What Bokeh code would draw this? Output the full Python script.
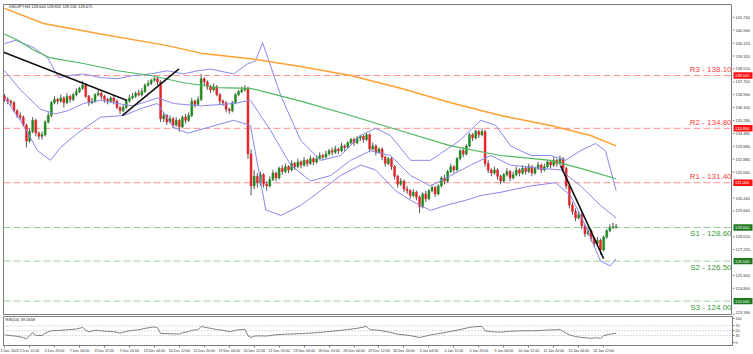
from bokeh.plotting import figure
from bokeh.layouts import column, row
from bokeh.models import Range1d, FixedTicker, Span, ColumnDataSource
from bokeh.embed import file_html
from bokeh.resources import INLINE
from bokeh.core.properties import value

# ---------------- data ----------------
first_open = 136.8
closes = [136.6, 136.5, 136.4, 135.9, 135.6, 135.5, 135.0, 134.0, 134.6, 135.3,
          134.5, 134.3, 134.4, 135.2, 135.6, 136.4, 136.6, 136.5, 136.7, 136.4,
          136.8, 136.6, 136.9, 137.1, 137.3, 137.5, 136.8, 136.4, 136.5, 136.9,
          137.0, 136.8, 136.6, 136.5, 136.7, 136.5, 136.1, 135.9, 136.1, 136.5,
          136.7, 136.8, 137.0, 136.9, 137.1, 137.5, 137.6, 137.8, 137.9, 137.7,
          135.4, 135.6, 135.2, 135.4, 135.0, 135.3, 134.9, 135.5, 135.3, 135.6,
          136.5, 136.3, 136.6, 137.9, 137.7, 137.4, 137.2, 137.4, 136.9, 136.5,
          136.4, 136.0, 135.9, 136.4, 136.9, 137.1, 137.2, 137.3, 133.2, 131.2,
          131.8, 131.4, 131.9, 131.3, 131.2, 131.6, 132.0, 131.7, 132.3, 132.1,
          132.4, 132.2, 132.6, 132.4, 132.7, 132.5, 132.8, 132.6, 132.9, 132.7,
          132.9, 133.1, 133.0, 133.2, 133.4, 133.3, 133.5, 133.4, 133.7, 133.6,
          133.9, 134.1, 133.9, 134.2, 134.3, 134.1, 134.4, 133.5, 133.7, 133.3,
          133.5, 133.0, 132.6, 132.9, 132.4, 131.8, 131.3, 131.5, 131.0, 130.9,
          130.6, 130.8, 130.5, 129.9, 130.7, 130.4, 130.9, 131.1, 130.7, 131.2,
          131.7, 131.5, 132.1, 132.4, 132.2, 132.9, 133.4, 133.2, 133.7, 134.4,
          134.2, 134.6, 134.4, 134.6, 132.6, 132.2, 132.0, 132.2, 131.8, 131.5,
          131.9, 132.1, 131.7, 131.9, 132.2, 132.0, 132.3, 132.1, 132.4, 132.0,
          132.3, 132.5, 132.2, 132.4, 132.7, 132.5, 132.8, 132.6, 132.9, 132.3,
          131.2, 130.0, 129.6, 129.2, 129.4, 128.7, 128.2, 128.4, 127.9, 127.6,
          127.8, 127.2, 128.0, 128.4, 128.6, 128.644, 128.675]
highs = [136.95, 136.75, 136.6, 136.5, 136.0, 135.8, 135.6, 135.1, 134.8, 135.5,
         135.4, 134.6, 134.6, 135.3, 135.8, 136.5, 136.8, 136.7, 136.9, 136.8,
         137.0, 136.9, 137.0, 137.3, 137.4, 137.75, 137.6, 136.9, 136.7, 137.0,
         137.2, 137.1, 136.9, 136.7, 136.8, 136.8, 136.6, 136.2, 136.3, 136.6,
         136.9, 137.0, 137.1, 137.2, 137.3, 137.6, 137.8, 137.9, 138.0, 138.0,
         137.8, 135.8, 135.7, 135.6, 135.5, 135.5, 135.4, 135.6, 135.7, 135.8,
         136.7, 136.6, 136.8, 138.2, 138.0, 137.8, 137.5, 137.6, 137.5, 137.0,
         136.6, 136.5, 136.1, 136.5, 137.0, 137.2, 137.4, 137.5, 137.4, 133.5,
         132.2, 132.0, 132.1, 132.0, 131.5, 131.8, 132.2, 132.1, 132.4, 132.5,
         132.6, 132.5, 132.8, 132.7, 132.9, 132.8, 133.0, 132.9, 133.1, 133.0,
         133.1, 133.3, 133.2, 133.4, 133.5, 133.6, 133.7, 133.6, 133.9, 133.8,
         134.0, 134.2, 134.2, 134.3, 134.4, 134.4, 134.5, 134.5, 133.9, 133.8,
         133.6, 133.6, 133.1, 133.0, 133.0, 132.5, 131.9, 131.7, 131.6, 131.2,
         131.0, 131.0, 130.9, 130.6, 130.8, 130.9, 131.0, 131.3, 131.2, 131.3,
         131.8, 131.9, 132.2, 132.6, 132.5, 133.0, 133.5, 133.6, 133.8, 134.5,
         134.5, 134.7, 134.7, 134.8, 134.7, 132.8, 132.3, 132.4, 132.3, 131.9,
         132.0, 132.3, 132.2, 132.1, 132.4, 132.3, 132.5, 132.4, 132.6, 132.5,
         132.4, 132.7, 132.6, 132.6, 132.8, 132.8, 133.0, 132.9, 133.1, 133.0,
         132.4, 131.3, 130.2, 129.8, 129.6, 129.5, 128.8, 128.6, 128.5, 128.0,
         128.0, 127.9, 128.1, 128.5, 128.8, 128.9, 128.832]
lows = [136.45, 136.3, 136.2, 135.8, 135.45, 135.3, 134.9, 133.6, 133.9, 134.5,
        134.3, 134.1, 134.1, 134.3, 135.1, 135.5, 136.3, 136.3, 136.4, 136.1,
        136.3, 136.4, 136.5, 136.8, 137.0, 137.2, 136.7, 136.2, 136.3, 136.4,
        136.8, 136.6, 136.4, 136.3, 136.4, 136.3, 136.0, 135.7, 135.8, 136.0,
        136.4, 136.6, 136.7, 136.8, 136.8, 137.0, 137.4, 137.5, 137.7, 137.5,
        135.2, 135.2, 135.0, 135.1, 134.8, 134.9, 134.6, 134.8, 135.1, 135.2,
        135.5, 136.1, 136.2, 136.5, 137.5, 137.2, 137.0, 137.1, 136.8, 136.3,
        136.2, 135.8, 135.7, 135.8, 136.3, 136.8, 137.0, 137.1, 132.9, 130.6,
        131.0, 131.1, 131.2, 131.1, 130.9, 131.1, 131.5, 131.5, 131.6, 131.9,
        132.0, 132.0, 132.1, 132.2, 132.3, 132.3, 132.4, 132.4, 132.5, 132.5,
        132.6, 132.8, 132.8, 132.9, 133.1, 133.1, 133.2, 133.2, 133.3, 133.4,
        133.5, 133.8, 133.7, 133.8, 134.0, 133.9, 134.0, 133.3, 133.4, 133.1,
        133.2, 132.8, 132.4, 132.5, 132.2, 131.6, 131.1, 131.2, 130.8, 130.7,
        130.4, 130.5, 130.3, 129.5, 129.8, 130.2, 130.3, 130.8, 130.5, 130.6,
        131.1, 131.3, 131.4, 132.0, 132.0, 132.1, 132.8, 133.0, 133.1, 133.6,
        134.0, 134.1, 134.2, 134.3, 132.4, 132.0, 131.8, 131.9, 131.6, 131.3,
        131.4, 131.8, 131.5, 131.6, 131.8, 131.8, 131.9, 131.9, 132.0, 131.8,
        131.9, 132.2, 132.0, 132.1, 132.3, 132.3, 132.4, 132.4, 132.5, 132.1,
        131.0, 129.8, 129.4, 129.0, 129.1, 128.5, 128.0, 128.1, 127.7, 127.4,
        127.5, 126.9, 127.1, 127.9, 128.3, 128.5, 128.531]

# Bollinger bands (bar index, price)
bb_up_bars = [0, 3.5, 9.3, 13.8, 17.3, 21, 25.3, 30.8, 36.2, 41.3, 46.8, 52.2, 57.4, 61.9, 66,
              73.4, 78, 80.4, 82.7, 88.5, 94.9, 101.3, 107.7, 114, 118.9, 123.7, 130.1, 136.5,
              146, 152.6, 157.4, 162.2, 168.6, 175, 179.8, 184.6, 189.4, 192.6, 196]
bb_up_vals = [140.1, 140.3, 139.85, 139.2, 137.97, 138.1, 138.2, 137.97, 137.9, 138.1, 138.2,
              138.4, 138.2, 138.4, 138.5, 138.2, 138.85, 139.0, 140.15, 136.85, 134.05, 132.8,
              133.1, 134.35, 134.8, 134.35, 132.8, 132.8, 134.05, 135.3, 134.98, 133.7, 133.1,
              133.1, 132.8, 133.4, 133.85, 133.4, 130.9]
bb_mid_bars = [0, 5.1, 11.5, 16.3, 20.2, 25.3, 30.8, 36.2, 41.3, 49, 54.2, 62.8, 73.4, 78.8,
               85.3, 91.7, 98.1, 104.5, 110.9, 117.3, 123.7, 130.1, 136.5, 143, 149.4, 155.8,
               162.2, 171.8, 178.2, 184.6, 191, 196]
bb_mid_vals = [138.4, 137.2, 136.0, 135.7, 135.9, 136.35, 136.55, 136.35, 136.2, 136.7, 136.35,
               136.2, 136.35, 136.55, 134.65, 132.5, 131.5, 131.85, 132.8, 133.4, 133.1, 131.85,
               131.2, 131.85, 132.5, 133.1, 132.5, 132.3, 132.2, 131.2, 129.98, 129.2]
bb_lo_bars = [0, 5.1, 10.6, 14.7, 17.9, 23.4, 30.8, 38.1, 44.6, 49, 54.2, 58.7, 65.1, 73.4,
              78.8, 81.4, 83.7, 88.5, 94.9, 101.3, 107.7, 114.1, 118.9, 125.3, 130.1, 136.5,
              141.3, 147.8, 152.6, 159, 168.6, 176.6, 181.4, 186.2, 191, 194.2, 196]
bb_lo_vals = [136.7, 135.3, 133.4, 132.8, 133.6, 134.5, 135.5, 135.6, 136.1, 136.35, 134.85,
              134.5, 134.85, 135.3, 134.98, 132.2, 129.7, 129.35, 129.98, 130.9, 131.85, 132.5,
              132.2, 130.9, 130.3, 129.66, 129.98, 130.3, 130.6, 130.8, 131.2, 131.4, 130.6,
              128.7, 126.5, 126.2, 126.65]
# moving averages
ma_green_bars = [0, 4.2, 9.3, 14.7, 25.3, 36.2, 46.8, 57.4, 68.3, 78.8, 94.9, 110.9, 126.9,
                 143, 159, 175, 184.6, 196]
ma_green_vals = [140.7, 140.3, 139.7, 139.2, 138.85, 138.4, 138.1, 137.65, 137.35, 137.3, 136.5,
                 135.6, 134.65, 133.7, 133.1, 132.8, 132.3, 131.65]
ma_orange_bars = [0, 12.5, 30.8, 52.2, 62.8, 78.8, 94.9, 110.9, 126.9, 143, 159, 175, 187.8, 196]
ma_orange_vals = [142.3, 141.35, 140.7, 139.97, 139.5, 139.15, 138.66, 138.1, 137.3, 136.4,
                  135.6, 134.98, 134.35, 133.7]
# RSI(14)
rsi_bars = [0, 2, 4, 6, 7, 8, 9, 10, 12, 13, 15, 17, 20, 23, 25, 26, 27, 29, 31, 33, 35, 37,
            39, 41, 43, 45, 47, 48, 49, 50, 52, 54, 56, 57, 59, 60, 62, 63, 64, 66, 68, 70, 72,
            74, 76, 77, 78, 79, 80, 82, 84, 86, 90, 95, 100, 105, 110, 113, 116, 117, 120, 123,
            126, 130, 133, 135, 137, 140, 143, 146, 149, 151, 153, 154, 156, 159, 162, 166, 170,
            174, 177, 178, 179, 181, 183, 185, 188, 190, 191, 192, 194, 196]
rsi_vals = [33, 30, 27, 22, 16, 30, 42, 31, 30, 40, 50, 51, 54, 57, 64, 52, 46, 52, 50, 47, 46,
            40, 47, 52, 54, 60, 64, 66, 62, 39, 38, 37, 36, 42, 46, 52, 54, 68, 65, 60, 55, 52,
            46, 52, 55, 56, 30, 22, 28, 29, 28, 32, 36, 38, 42, 48, 55, 60, 68, 55, 52, 45, 36,
            30, 22, 28, 34, 40, 47, 55, 64, 67, 68, 50, 46, 44, 48, 50, 50, 53, 54, 56, 47, 33,
            26, 22, 19, 21, 18, 30, 36, 39.57]
# drawn trend lines (bar, price)
trend1_bars = [-0.3, 39.3]
trend1_vals = [139.56, 136.54]
trend2_bars = [37.7, 55.9]
trend2_vals = [135.6, 138.52]
trend3_bars = [178.2, 192]
trend3_vals = [132.47, 126.66]
# support / resistance
res_levels = [138.10, 134.80, 131.40]
res_names = ["R3 - 138.10", "R2 - 134.80", "R1 - 131.40"]
sup_levels = [128.60, 126.50, 124.00]
sup_names = ["S1 - 128.60", "S2 - 126.50", "S3 - 124.00"]
# axis labels
price_ticks = [141.74, 140.94, 140.12, 139.32, 138.52, 137.70, 136.90, 136.10, 135.28, 134.48,
               133.68, 132.88, 132.06, 131.26, 130.44, 129.64, 128.02, 127.22, 125.60, 124.80,
               123.18]
x_labels = ["1 Dec 2022", "2 Dec 12:00", "5 Dec 20:00", "7 Dec 04:00", "8 Dec 12:00",
            "9 Dec 20:00", "13 Dec 04:00", "14 Dec 12:00", "15 Dec 20:00", "19 Dec 04:00",
            "20 Dec 12:00", "21 Dec 20:00", "23 Dec 04:00", "26 Dec 20:00", "28 Dec 04:00",
            "29 Dec 12:00", "30 Dec 20:00", "3 Jan 04:00", "4 Jan 12:00", "5 Jan 20:00",
            "9 Jan 04:00", "10 Jan 12:00", "11 Jan 20:00", "13 Jan 04:00", "16 Jan 12:00"]
title_text = "USDJPY,H4  128.644 128.832 128.531 128.675"
rsi_text = "RSI(14) 39.5658"

# ---------------- styles ----------------
FONT = "Liberation Sans"
UP, DOWN = "#1f8a1f", "#e3242b"
GRAY = "#7a7a7a"
TICKFS = "4px"
Y0, Y1 = 123.1, 142.54

opens = [first_open] + closes[:-1]
xs = list(range(len(closes)))
src = ColumnDataSource(dict(
    x=xs, open=opens, close=closes, high=highs, low=lows,
    top=[max(o, c) for o, c in zip(opens, closes)],
    bottom=[min(o, c) for o, c in zip(opens, closes)],
    color=[UP if c >= o else DOWN for o, c in zip(opens, closes)],
))

xr = Range1d(-0.35, 233.3)
yr = Range1d(Y0, Y1)
p = figure(frame_width=729, frame_height=311, x_range=xr, y_range=yr,
           output_backend="svg", toolbar_location=None, x_axis_location=None,
           y_axis_location=None, min_border_left=3, min_border_right=0,
           min_border_top=4, min_border_bottom=0)
p.outline_line_color = GRAY
p.grid.visible = False

for lv in res_levels:
    p.add_layout(Span(location=lv, dimension="width", line_color="#ff9090",
                      line_dash="7 3", line_width=1, level="underlay"))
for lv in sup_levels:
    p.add_layout(Span(location=lv, dimension="width", line_color="#93d093",
                      line_dash="7 3", line_width=1, level="underlay"))

p.segment(x0="x", y0="low", x1="x", y1="high", source=src, line_color="#555555", line_width=1)
p.vbar(x="x", width=0.62, top="top", bottom="bottom", source=src,
       fill_color="color", line_color="color", line_width=0.5)

BB = "#8888ee"
p.line(bb_up_bars, bb_up_vals, line_color=BB, line_width=1)
p.line(bb_mid_bars, bb_mid_vals, line_color=BB, line_width=1)
p.line(bb_lo_bars, bb_lo_vals, line_color=BB, line_width=1)
p.line(ma_green_bars, ma_green_vals, line_color="#4cb860", line_width=1.2)
p.line(ma_orange_bars, ma_orange_vals, line_color="#ffa030", line_width=1.5)
for bx, by in [(trend1_bars, trend1_vals), (trend2_bars, trend2_vals), (trend3_bars, trend3_vals)]:
    p.line(bx, by, line_color="#111111", line_width=1.6)

p.text(x=[233.0] * 3, y=[v + 0.1 for v in res_levels], text=res_names,
       text_font=value(FONT), text_font_size="8px", text_color="#ff4040",
       text_align="right", text_baseline="bottom")
p.text(x=[233.0] * 3, y=[v - 0.12 for v in sup_levels], text=sup_names,
       text_font=value(FONT), text_font_size="8px", text_color="#3c9c3c",
       text_align="right", text_baseline="top")
p.text(x=[1.3], y=[142.42], text=[title_text], text_font=value(FONT),
       text_font_size=TICKFS, text_color="#222222", text_baseline="middle")

# ---------------- price scale strip (right of the chart) ----------------
s = figure(frame_width=21, frame_height=311, x_range=Range1d(0, 21), y_range=yr,
           output_backend="svg", toolbar_location=None, x_axis_location=None,
           y_axis_location=None, min_border_left=0, min_border_right=0,
           min_border_top=4, min_border_bottom=0)
s.outline_line_color = None
s.grid.visible = False
n = len(price_ticks)
s.segment(x0=[0] * n, y0=price_ticks, x1=[2] * n, y1=price_ticks, line_color=GRAY, line_width=1)
label_y = [max(t, Y0 + 0.19) for t in price_ticks]   # keep the lowest label inside the strip
s.text(x=[3] * n, y=label_y, text=["%.3f" % t for t in price_ticks],
       text_font=value(FONT), text_font_size=TICKFS, text_color="#333333",
       text_baseline="middle")
s.rect(x=[10.5] * 3, y=res_levels, width=19, height=0.4, fill_color="#ff1010", line_color=None)
s.rect(x=[10.5] * 3, y=sup_levels, width=19, height=0.4, fill_color="#1e7a1e", line_color=None)
s.text(x=[2.5] * 3, y=res_levels, text=["%.3f" % v for v in res_levels],
       text_font=value(FONT), text_font_size=TICKFS, text_color="white", text_baseline="middle")
s.text(x=[2.5] * 3, y=sup_levels, text=["%.3f" % v for v in sup_levels],
       text_font=value(FONT), text_font_size=TICKFS, text_color="white", text_baseline="middle")

# ---------------- RSI pane ----------------
r = figure(frame_width=729, frame_height=29, x_range=xr, y_range=Range1d(-11, 109),
           output_backend="svg", toolbar_location=None, y_axis_location="right",
           min_border_left=3, min_border_right=21, min_border_top=1, min_border_bottom=0)
r.outline_line_color = GRAY
r.grid.visible = False
for lv in [70, 50, 30]:
    r.add_layout(Span(location=lv, dimension="width", line_color="#b5b5b5",
                      line_dash="1 2", line_width=1, level="underlay"))
r.line(rsi_bars, rsi_vals, line_color="#808080", line_width=1)
r.text(x=[0.3], y=[95], text=[rsi_text], text_font=value(FONT), text_font_size=TICKFS,
       text_color="#222222", text_baseline="middle")
ry = r.yaxis[0]
ry.ticker = FixedTicker(ticks=[0, 30, 50, 70, 100])
ry.major_label_text_font = FONT
ry.major_label_text_font_size = "3.6px"
ry.major_label_text_color = "#333333"
ry.axis_line_color = GRAY
ry.major_tick_line_color = GRAY
ry.major_tick_out = 2
ry.major_tick_in = 0
ry.minor_tick_line_color = None
ry.major_label_standoff = 1
rx = r.xaxis[0]
x_ticks = [8 * i for i in range(len(x_labels))]
rx.ticker = FixedTicker(ticks=x_ticks)
rx.major_label_overrides = {t: s_ for t, s_ in zip(x_ticks, x_labels)}
rx.major_label_text_font = FONT
rx.major_label_text_font_size = "3.6px"
rx.major_label_text_color = "#333333"
rx.major_label_text_align = "left"
rx.axis_line_color = GRAY
rx.major_tick_line_color = GRAY
rx.major_tick_out = 2
rx.major_tick_in = 0
rx.minor_tick_line_color = None
rx.major_label_standoff = 1

layout = column(row(p, s, spacing=0), r, spacing=0)
open("out.html", "w").write(file_html(layout, INLINE))
